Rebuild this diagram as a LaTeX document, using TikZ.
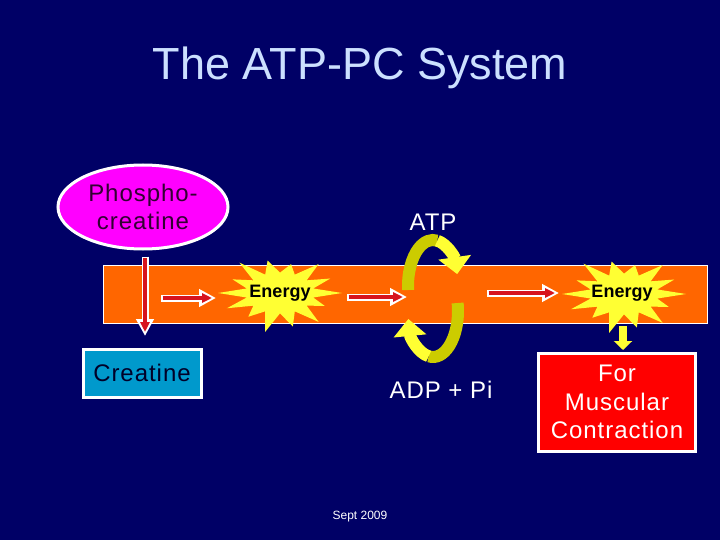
\documentclass[tikz,border=0pt]{standalone}
\usepackage{fontspec}
\setmainfont{Liberation Sans}
\usetikzlibrary{arrows.meta,shapes.geometric}
\definecolor{bg}{RGB}{0,0,102}
\definecolor{titlecol}{RGB}{204,224,255}
\definecolor{bandor}{RGB}{255,102,0}
\definecolor{magent}{RGB}{255,0,255}
\definecolor{creablue}{RGB}{0,153,204}
\definecolor{boxred}{RGB}{255,0,0}
\definecolor{arrred}{RGB}{215,20,30}
\definecolor{olive}{RGB}{204,204,0}
\definecolor{ylw}{RGB}{255,255,51}
\definecolor{darkpurp}{RGB}{51,0,51}
\definecolor{darknavy}{RGB}{0,0,40}
\newcommand\burstat[2]{%
  \begin{scope}[shift={(#1,#2)},xscale=62,yscale=37]
    \fill[ylw] (0:1.0)
      \foreach \r [count=\i from 0] in {0.8,1.0,0.93,1.08,0.82,0.95,1.0,0.85,1.05,0.9,0.8,1.0,0.9,1.0}
        { -- (\i*25.714+12.857:0.55) -- (\i*25.714+25.714:\r) } -- cycle;
  \end{scope}}
\newcommand\redarrow[2]{%
  \draw[white,line width=7pt,-{Triangle[width=17pt,length=17pt]}] (#1) -- (#2);
  \draw[arrred,line width=3.6pt,-{Triangle[width=9pt,length=10pt]},shorten >=4pt,shorten <=1.5pt] (#1) -- (#2);}
\begin{document}
\begin{tikzpicture}[x=1pt,y=-1pt,
  bodyfont/.style={font=\fontsize{24}{28.5}\selectfont\addfontfeature{LetterSpace=4}},
  txt/.style={text=white,bodyfont,align=center,inner sep=0pt},
  energy/.style={text=black,font=\bfseries\fontsize{18}{20}\selectfont,inner sep=0pt},
  bandbox/.style={draw=white,line width=1pt,fill=bandor,minimum width=604pt,minimum height=58pt,inner sep=0pt},
  olivearc/.style={olive,line width=12pt},
  yellowarc/.style={ylw,line width=12pt,-{Triangle[width=32pt,length=17pt]}}]
\fill[bg] (0,0) rectangle (720,540);
\useasboundingbox (0,0) rectangle (720,540);

\node[text=titlecol,font=\fontsize{45}{50}\selectfont,inner sep=0pt] (title) at (360,68) {The ATP-PC System};

\node[bandbox] (band) at (405,294) {};

\node[ellipse,draw=white,line width=3pt,fill=magent,minimum width=170pt,minimum height=84pt,inner sep=0pt,
  text=darkpurp,bodyfont,align=center] (pc) at (143,207) {Phospho-\\creatine};

\node[draw=white,line width=3pt,fill=creablue,minimum width=118pt,minimum height=48pt,inner sep=0pt,
  text=darknavy,bodyfont] (cr) at (142,373) {Creatine};

\node[draw=white,line width=3pt,fill=boxred,minimum width=157pt,minimum height=98pt,inner sep=0pt,
  txt] (mc) at (617,402) {For\\Muscular\\Contraction};

\node[txt] (atp) at (433,222) {ATP};
\node[txt] (adp) at (441,390) {ADP + Pi};

\burstat{280}{293}
\burstat{624}{294}
\node[energy] (e1) at (280,293) {Energy};
\node[energy] (e2) at (622,293) {Energy};

% cycle arrows
\draw[olivearc] (433,286) ++(-185:25 and 46) arc[start angle=-185,end angle=-80,x radius=25,y radius=46];
\draw[yellowarc] (433,286) ++(-80:25 and 46) arc[start angle=-80,end angle=-15,x radius=25,y radius=46];
\draw[olivearc] (433,311) ++(-10:25 and 46) arc[start angle=-10,end angle=100,x radius=25,y radius=46];
\draw[yellowarc] (433,311) ++(100:25 and 46) arc[start angle=100,end angle=170,x radius=25,y radius=46];

% red arrows
\coordinate (v1) at ([yshift=-6pt]pc.south -| 145,0);
\coordinate (v2) at (145,336);
\redarrow{v1}{v2}
\coordinate (h1s) at (161,298);
\coordinate (h1e) at (216,298);
\redarrow{h1s}{h1e}
\coordinate (h2s) at (347,297);
\coordinate (h2e) at (407,297);
\redarrow{h2s}{h2e}
\coordinate (h3s) at (487,293);
\coordinate (h3e) at (559,293);
\redarrow{h3s}{h3e}

% yellow down arrow
\coordinate (y1) at (623,326);
\coordinate (y2) at (623,350);
\draw[ylw,line width=8pt,-{Triangle[width=18pt,length=9pt]}] (y1) -- (y2);

\node[text=white,font=\fontsize{12}{14}\selectfont,inner sep=0pt] (date) at (360,517) {Sept 2009};
\end{tikzpicture}
\end{document}
